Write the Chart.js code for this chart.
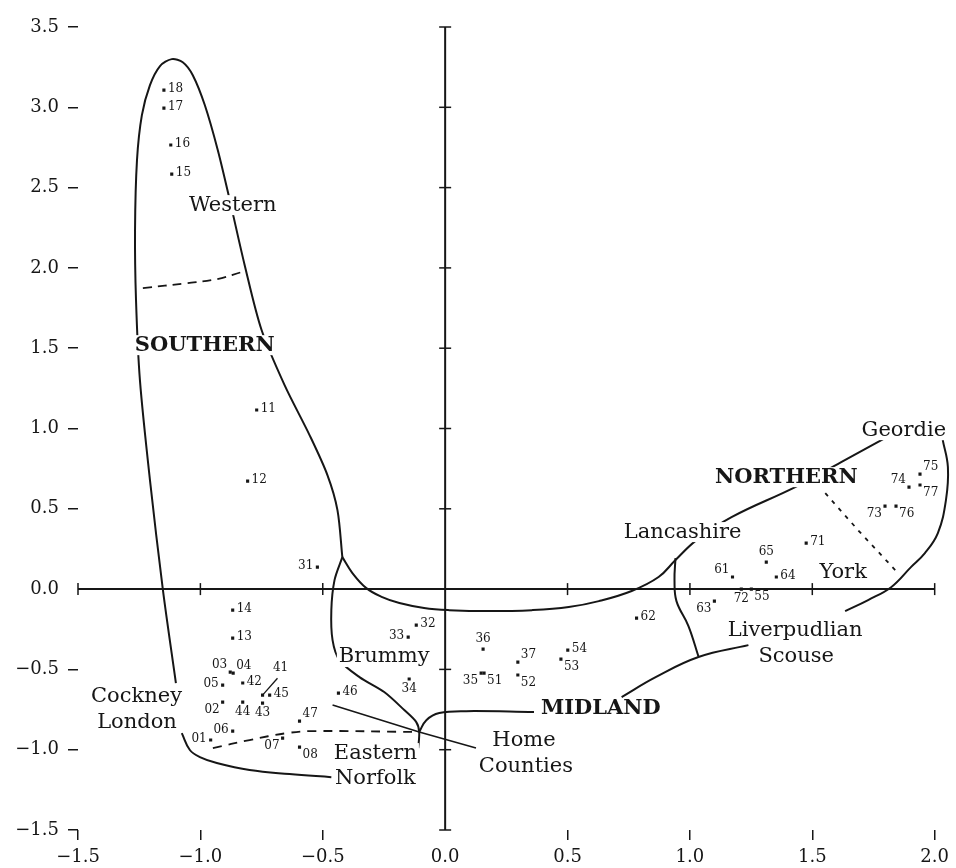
<!DOCTYPE html>
<html>
<head>
<meta charset="utf-8">
<script src="https://cdn.jsdelivr.net/npm/chart.js@4.4.0/dist/chart.umd.min.js"></script>
<style>
  html, body { margin: 0; padding: 0; background: #fff; }
</style>
</head>
<body>
<canvas id="chart" width="956" height="868"></canvas>
<script>
// ---- data ----

// dialect localities (number, x, y)
const pointIds = ['18','17','16','15','11','12','31','14','13','03','04','05','42','02','44','41','45','43','06','01','07','47','08','46','34','33','32','36','35','51','37','52','54','53','62','63','72','55','61','65','64','71','74','75','77','73','76'];
const pointX = [-1.149,-1.149,-1.121,-1.117,-0.770,-0.807,-0.522,-0.868,-0.868,-0.878,-0.866,-0.909,-0.827,-0.909,-0.827,-0.746,-0.717,-0.746,-0.868,-0.958,-0.664,-0.595,-0.595,-0.436,-0.147,-0.151,-0.118,0.155,0.147,0.159,0.297,0.297,0.501,0.473,0.782,1.100,1.210,1.251,1.174,1.312,1.353,1.475,1.895,1.940,1.940,1.797,1.842];
const pointY = [3.107,2.995,2.765,2.584,1.115,0.672,0.137,-0.131,-0.305,-0.517,-0.523,-0.598,-0.585,-0.704,-0.704,-0.660,-0.660,-0.710,-0.884,-0.940,-0.928,-0.822,-0.984,-0.648,-0.560,-0.299,-0.224,-0.374,-0.523,-0.523,-0.455,-0.535,-0.380,-0.436,-0.181,-0.075,0.0,0.0,0.075,0.168,0.075,0.286,0.635,0.716,0.648,0.517,0.517];
// where each number sits around its dot
const pointLabelSide = ['r','r','r','r','r','r','l','r','r','al','ar','l','r','bl','b','lead','r','b','l','l','bl','ar','br','r','b','l','r','a','bl','br','ar','br','r','br','r','bl','b','br','al','a','r','r','al','ar','br','bl','br'];

// axis tick labels
const xTickLabels = ['\u22121.5','\u22121.0','\u22120.5','0.0','0.5','1.0','1.5','2.0'];
const yTickLabels = ['\u22121.5','\u22121.0','\u22120.5','0.0','0.5','1.0','1.5','2.0','2.5','3.0','3.5'];
const xAxisTicks = [-1.5,-1.0,-0.5,0.5,1.0,1.5,2.0];
const yAxisTicks = [-1.5,-1.0,-0.5,0.5,1.0,1.5,2.0,2.5,3.0,3.5];

// region names
const regionNames = ['Western','SOUTHERN','Cockney','London','Brummy','Eastern','Norfolk','Home','Counties','MIDLAND','Lancashire','NORTHERN','Geordie','York','Liverpudlian','Scouse'];
const regionX = [-0.868,-0.982,-1.261,-1.259,-0.249,-0.285,-0.285,0.322,0.330,0.636,0.970,1.394,1.874,1.626,1.430,1.434];
const regionY = [2.391,1.519,-0.672,-0.828,-0.423,-1.021,-1.177,-0.946,-1.102,-0.741,0.355,0.697,0.990,0.100,-0.255,-0.423];
const regionBold = [false,true,false,false,false,false,false,false,false,true,false,true,false,false,false,false];

// boundary lines, [x, y]
const westernLoop = [[-1.100,-0.585],[-1.153,-0.006],[-1.206,0.679],[-1.247,1.301],[-1.263,1.800],[-1.267,2.235],[-1.259,2.671],[-1.239,2.951],[-1.206,3.138],[-1.165,3.257],[-1.117,3.300],[-1.072,3.281],[-1.031,3.200],[-0.982,3.014],[-0.929,2.734],[-0.880,2.422],[-0.819,2.017],[-0.750,1.613],[-0.656,1.270],[-0.554,0.959],[-0.481,0.710],[-0.440,0.492],[-0.420,0.199]];
const northernUpper = [[-0.420,0.199],[-0.379,0.100],[-0.322,0.006],[-0.257,-0.050],[-0.187,-0.087],[-0.086,-0.118],[0.016,-0.131],[0.179,-0.137],[0.355,-0.131],[0.505,-0.112],[0.628,-0.075],[0.762,-0.012],[0.872,0.075],[0.941,0.181],[1.027,0.305],[1.170,0.448],[1.430,0.635],[1.618,0.791],[1.797,0.940]];
const geordieOuter = [[2.033,0.928],[2.054,0.760],[2.046,0.554],[2.013,0.349],[1.960,0.224],[1.903,0.137],[1.822,0.012],[1.728,-0.068],[1.634,-0.137]];
const scouseLine = [[1.239,-0.349],[1.035,-0.423],[0.860,-0.548],[0.721,-0.672]];
const lancsDivider = [[0.941,0.193],[0.937,0.056],[0.945,-0.075],[0.994,-0.230],[1.035,-0.420]];
const brummyLine = [[-0.420,0.199],[-0.452,0.056],[-0.465,-0.131],[-0.460,-0.318],[-0.432,-0.442],[-0.350,-0.548],[-0.249,-0.641],[-0.167,-0.753],[-0.118,-0.828],[-0.106,-0.890],[-0.110,-0.990]];
const midlandLine = [[-0.106,-0.890],[-0.077,-0.816],[-0.024,-0.772],[0.086,-0.760],[0.363,-0.766]];
const homeCountiesLine = [[-0.460,-0.722],[-0.106,-0.890],[0.126,-0.990]];
const southBottom = [[-1.076,-0.897],[-1.043,-1.002],[-1.002,-1.046],[-0.933,-1.083],[-0.799,-1.127],[-0.636,-1.152],[-0.465,-1.171]];
const londonDashed = [[-0.949,-0.990],[-0.799,-0.940],[-0.648,-0.897],[-0.534,-0.884],[-0.106,-0.890]];
const westernDashed = [[-1.235,1.874],[-1.055,1.905],[-0.933,1.930],[-0.831,1.974]];
const yorkDotted = [[1.553,0.598],[1.687,0.367],[1.850,0.100]];
const leader41 = [[-0.746,-0.660],[-0.685,-0.555]];

// ---- chart ----
const ink = '#161616';
const serif = '"DejaVu Serif", "Liberation Serif", serif';
Chart.defaults.font.family = serif;

function curve(pts, extra) {
  return Object.assign({
    data: pts.map(p => ({ x: p[0], y: p[1] })),
    showLine: true,
    borderColor: ink,
    borderWidth: 2,
    pointRadius: 0,
    pointHoverRadius: 0,
    tension: 0.4,
    clip: false,
    fill: false
  }, extra || {});
}

const sideOffsets = {
  r:    { dx: 4,   dy: -1, align: 'left' },
  l:    { dx: -4,  dy: -1, align: 'right' },
  a:    { dx: 0,   dy: -10, align: 'center' },
  b:    { dx: 0,   dy: 10, align: 'center' },
  ar:   { dx: 3,   dy: -7, align: 'left' },
  al:   { dx: -3,  dy: -7, align: 'right' },
  br:   { dx: 3,   dy: 8, align: 'left' },
  bl:   { dx: -3,  dy: 8, align: 'right' },
  lead: { dx: 18,  dy: -27, align: 'center' }
};

const labelPlugin = {
  id: 'mapLabels',
  afterDatasetsDraw(chart) {
    const { ctx } = chart;
    const xs = chart.scales.x, ys = chart.scales.y;
    ctx.save();
    ctx.textBaseline = 'middle';

    // region names, on a white patch so the lines break round them
    regionNames.forEach((name, i) => {
      ctx.font = (regionBold[i] ? 'bold ' : '') + '21px ' + serif;
      const px = xs.getPixelForValue(regionX[i]);
      const py = ys.getPixelForValue(regionY[i]);
      const w = ctx.measureText(name).width;
      ctx.fillStyle = '#fff';
      ctx.fillRect(px - w / 2 - 2, py - 10, w + 4, 20);
      ctx.fillStyle = ink;
      ctx.textAlign = 'center';
      ctx.fillText(name, px, py);
    });

    // locality numbers
    ctx.font = '12px ' + serif;
    ctx.fillStyle = ink;
    pointIds.forEach((id, i) => {
      const o = sideOffsets[pointLabelSide[i]];
      const px = xs.getPixelForValue(pointX[i]);
      const py = ys.getPixelForValue(pointY[i]);
      ctx.textAlign = o.align;
      ctx.fillText(id, px + o.dx, py + o.dy);
    });
    ctx.restore();
  }
};

const hideZero = (c) => (c.tick && c.tick.value === 0) ? 'rgba(0,0,0,0)' : ink;

new Chart(document.getElementById('chart'), {
  type: 'scatter',
  data: {
    datasets: [
      // axes through the origin
      curve([[-1.5, 0], [2.0, 0]], { tension: 0 }),
      curve([[0, -1.5], [0, 3.5]], { tension: 0 }),
      {
        data: xAxisTicks.map(v => ({ x: v, y: 0 })),
        pointStyle: 'line', rotation: 90, pointRadius: 6, pointHoverRadius: 6,
        pointBorderWidth: 1.5, pointBorderColor: ink, borderColor: ink, clip: false
      },
      {
        data: yAxisTicks.map(v => ({ x: 0, y: v })),
        pointStyle: 'line', rotation: 0, pointRadius: 6, pointHoverRadius: 6,
        pointBorderWidth: 1.5, pointBorderColor: ink, borderColor: ink, clip: false
      },
      // region boundaries
      curve(westernLoop, { tension: 0.3 }),
      curve(northernUpper),
      curve(geordieOuter),
      curve(scouseLine),
      curve(lancsDivider),
      curve(brummyLine, { tension: 0.3 }),
      curve(midlandLine),
      curve(homeCountiesLine, { tension: 0, borderWidth: 1.6 }),
      curve(southBottom),
      curve(londonDashed, { borderDash: [9, 7], borderWidth: 1.8 }),
      curve(westernDashed, { borderDash: [9, 6], borderWidth: 1.8 }),
      curve(yorkDotted, { tension: 0, borderDash: [4, 6], borderWidth: 1.8 }),
      curve(leader41, { tension: 0, borderWidth: 1.3 }),
      // localities
      {
        data: pointX.map((v, i) => ({ x: v, y: pointY[i] })),
        pointStyle: 'rect', pointRadius: 2.2, pointHoverRadius: 2.2,
        backgroundColor: ink, borderColor: ink, pointBorderWidth: 0
      }
    ]
  },
  options: {
    responsive: false,
    animation: false,
    events: [],
    layout: { padding: { top: 27, right: 19, left: 0, bottom: 0 } },
    plugins: {
      legend: { display: false },
      tooltip: { enabled: false }
    },
    scales: {
      x: {
        type: 'linear',
        min: -1.5,
        max: 2.0,
        afterFit: (s) => { s.height = 38; },
        border: { display: false },
        grid: {
          drawOnChartArea: false, drawTicks: true, tickLength: 10,
          lineWidth: 1.5, color: hideZero
        },
        ticks: {
          stepSize: 0.5,
          padding: 7,
          color: ink,
          font: { size: 18, family: serif },
          maxRotation: 0,
          autoSkip: false,
          callback: (v, i) => xTickLabels[i]
        }
      },
      y: {
        type: 'linear',
        min: -1.5,
        max: 3.5,
        afterFit: (s) => { s.width = 78; },
        border: { display: false },
        grid: {
          drawOnChartArea: false, drawTicks: true, tickLength: 10,
          lineWidth: 1.5, color: hideZero
        },
        ticks: {
          stepSize: 0.5,
          padding: 9,
          color: ink,
          font: { size: 18, family: serif },
          autoSkip: false,
          callback: (v, i) => yTickLabels[i]
        }
      }
    }
  },
  plugins: [labelPlugin]
});
</script>
</body>
</html>
